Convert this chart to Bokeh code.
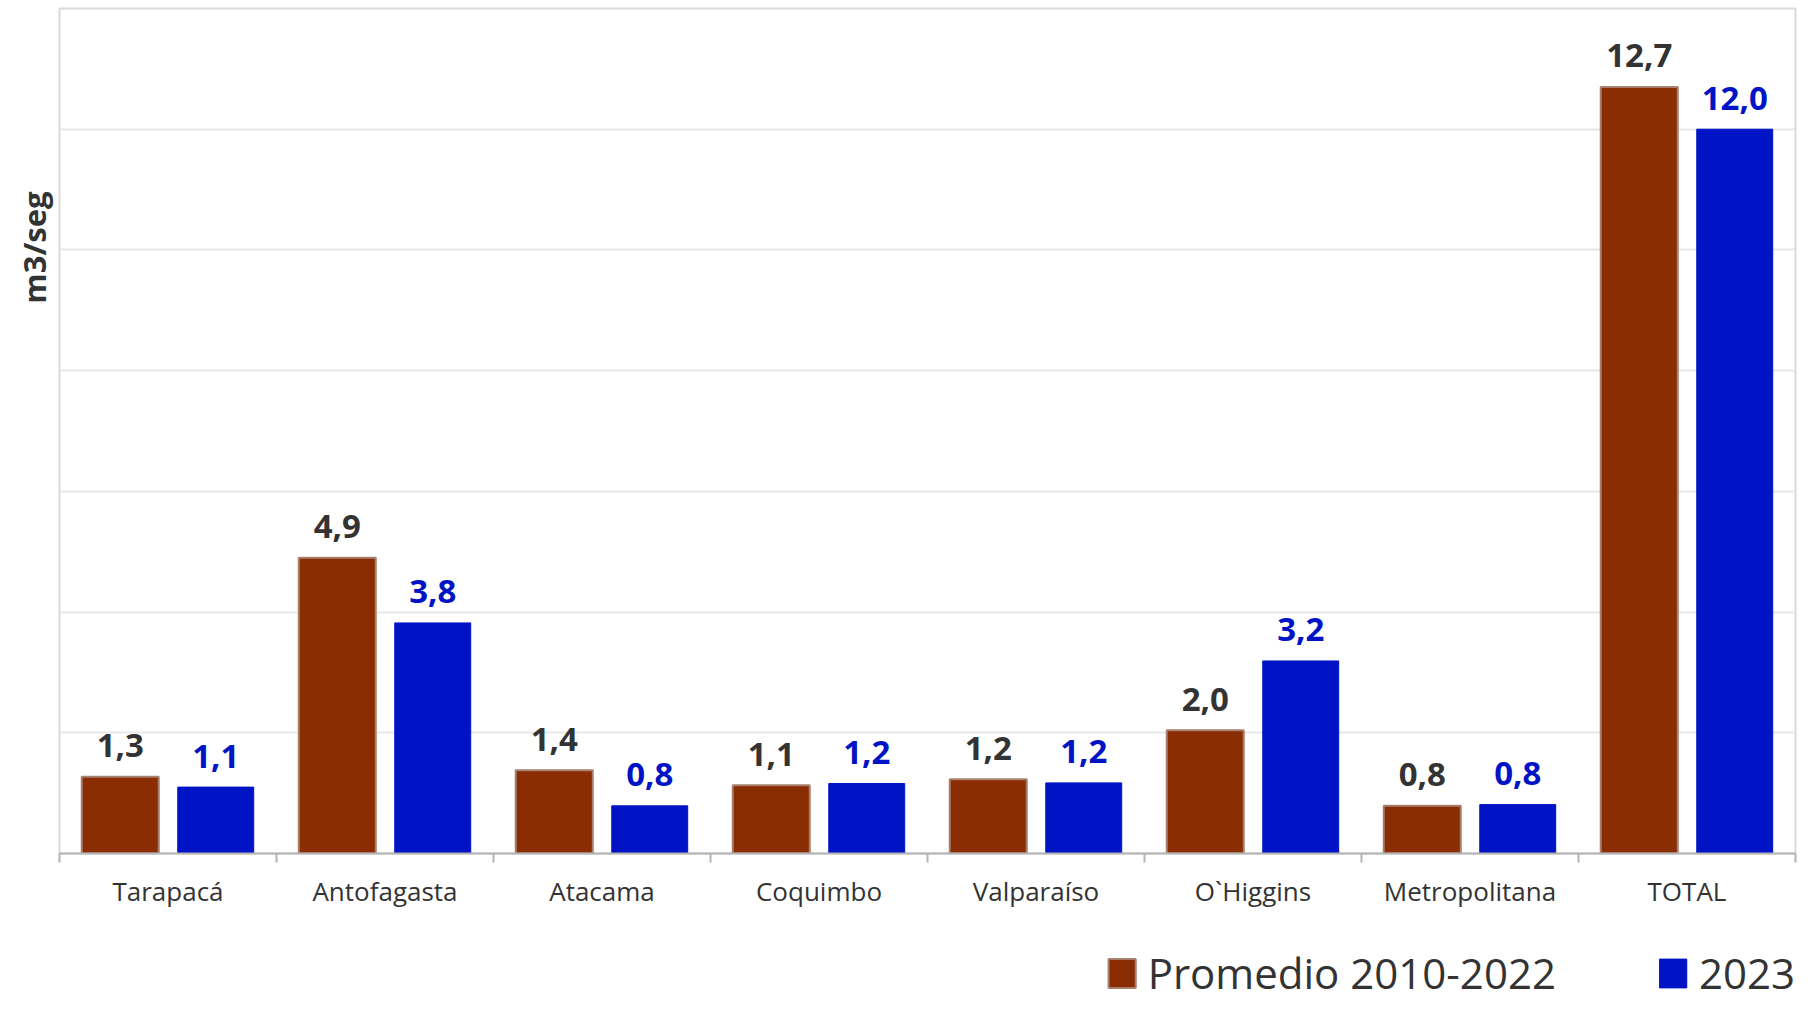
import numpy as np
from bokeh.plotting import figure
from bokeh.models import (ColumnDataSource, FixedTicker, Range1d, Legend, LegendItem, Title)
from bokeh.layouts import column
from bokeh.transform import dodge
from bokeh.core.properties import value
from bokeh.embed import file_html
from bokeh.resources import INLINE

categories = ["Tarapacá", "Antofagasta", "Atacama", "Coquimbo", "Valparaíso",
              "O`Higgins", "Metropolitana", "TOTAL"]
promedio = [1.27, 4.90, 1.38, 1.13, 1.23, 2.04, 0.79, 12.70]
y2023 = [1.10, 3.82, 0.79, 1.16, 1.17, 3.19, 0.81, 12.00]
series_names = ["Promedio 2010-2022", "2023"]
y_axis_title = "m3/seg"
y_max = 14
grid_step = 2

RED = "#8B2D02"
RED_EDGE = "#A8806F"
BLUE = "#0014C6"
FONT = "Open Sans"

def fmt(v):
    return f"{v:.1f}".replace(".", ",")

xpos = np.arange(len(categories)) + 0.5
src = ColumnDataSource(dict(
    x=xpos, prom=promedio, y23=y2023,
    prom_lbl=[fmt(v) for v in promedio],
    y23_lbl=[fmt(v) for v in y2023],
))

p = figure(frame_width=1736, frame_height=845, output_backend="svg", toolbar_location=None,
           x_range=Range1d(0, len(categories)), y_range=Range1d(0, y_max),
           min_border_left=59, min_border_right=7, min_border_top=8,
           min_border_bottom=60)

p.background_fill_color = "white"
p.border_fill_color = "white"
p.outline_line_color = "#dadada"
p.outline_line_width = 2

p.vbar(x=dodge("x", -0.22), top="prom", width=0.355, source=src,
       fill_color=RED, line_color=RED_EDGE, line_width=2)
p.vbar(x=dodge("x", 0.22), top="y23", width=0.35, source=src,
       fill_color=BLUE, line_color=BLUE, line_width=1)

p.text(x=dodge("x", -0.22), y="prom", text="prom_lbl", source=src,
       text_font=value(FONT), text_font_style="bold", text_font_size="33px",
       text_color="#333333", text_align="center", text_baseline="alphabetic",
       y_offset=-31)
p.text(x=dodge("x", 0.22), y="y23", text="y23_lbl", source=src,
       text_font=value(FONT), text_font_style="bold", text_font_size="33px",
       text_color=BLUE, text_align="center", text_baseline="alphabetic",
       y_offset=-31)

# y axis: grid only
p.yaxis.visible = False
p.ygrid.ticker = FixedTicker(ticks=list(range(0, y_max + 1, grid_step)))
p.ygrid.grid_line_color = "#e8e8e8"
p.ygrid.grid_line_width = 2
p.xgrid.visible = False

# x axis
xa = p.xaxis[0]
xa.ticker = FixedTicker(ticks=list(xpos), minor_ticks=list(range(0, len(categories) + 1)))
xa.major_label_overrides = {float(x): c for x, c in zip(xpos, categories)}
xa.major_tick_line_color = None
xa.major_tick_out = 0
xa.major_tick_in = 0
xa.minor_tick_line_color = "#b4b4b4"
xa.minor_tick_line_width = 2
xa.minor_tick_out = 9
xa.minor_tick_in = 0
xa.axis_line_color = "#b4b4b4"
xa.axis_line_width = 2
xa.major_label_text_font = FONT
xa.major_label_text_font_size = "26px"
xa.major_label_text_color = "#333333"
xa.major_label_standoff = 10

# y title
p.add_layout(Title(text=y_axis_title, align="right", offset=183, standoff=9,
                   text_font=FONT, text_font_style="bold", text_font_size="31px",
                   text_color="#333333"), "left")

# legend strip below the chart (series swatches taken from the same data source,
# renderers hidden so only the legend is shown)
p2 = figure(frame_width=1736, height=88, output_backend="svg", toolbar_location=None,
            x_axis_type=None, y_axis_type=None,
            min_border_left=59, min_border_right=7, min_border_top=0, min_border_bottom=0)
p2.outline_line_color = None
p2.background_fill_color = "white"
p2.border_fill_color = "white"
k1 = p2.vbar(x="x", top="prom", width=0.355, source=src,
             fill_color=RED, line_color=RED_EDGE, line_width=2, visible=False)
k2 = p2.vbar(x="x", top="y23", width=0.35, source=src,
             fill_color=BLUE, line_color=BLUE, line_width=1, visible=False)

legend = Legend(items=[LegendItem(label=series_names[0], renderers=[k1], index=0),
                       LegendItem(label=series_names[1], renderers=[k2], index=0)],
                orientation="horizontal", location="bottom_right",
                label_text_font=FONT, label_text_font_size="42px",
                label_text_line_height=0.9,
                label_text_color="#333333", glyph_width=34, glyph_height=36,
                label_standoff=9, spacing=100, padding=0, margin=0,
                inactive_fill_alpha=0, click_policy="none",
                border_line_color=None, background_fill_alpha=0)
p2.add_layout(legend, "center")

layout = column(p, p2, spacing=0)
open("out.html", "w").write(file_html(layout, INLINE))
